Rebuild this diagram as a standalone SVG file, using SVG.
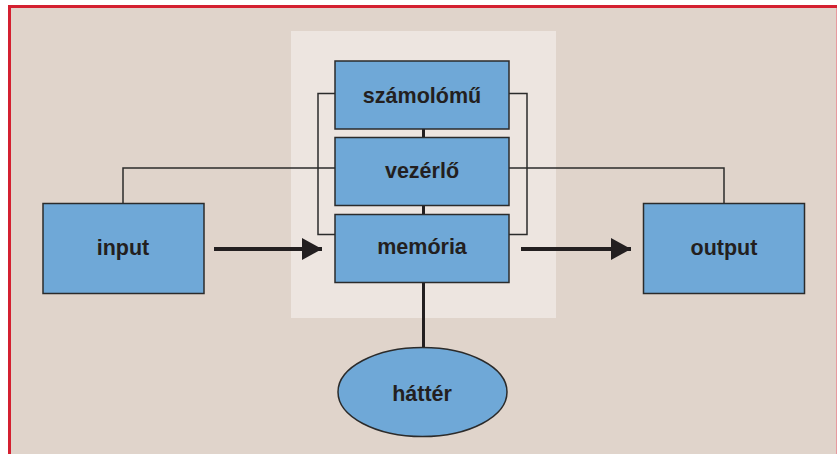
<svg xmlns="http://www.w3.org/2000/svg" width="837" height="454" viewBox="0 0 837 454">
<defs>
<style>
.box{fill:#6fa8d7;stroke:#2b2b2b;stroke-width:1.5}
.lbl{font-family:"Liberation Sans",Arial,sans-serif;font-weight:bold;font-size:21.5px;fill:#231f20;text-anchor:middle}
.thin{fill:none;stroke:#2b2b2b;stroke-width:1.5}
.thick{fill:none;stroke:#231f20;stroke-width:3}
.arrow{fill:none;stroke:#231f20;stroke-width:4}
</style>
<marker id="ah" viewBox="0 0 20 22" refX="20" refY="11" markerWidth="20" markerHeight="22" markerUnits="userSpaceOnUse" orient="auto">
<path d="M0,0 L20,11 L0,22 Z" fill="#231f20"/>
</marker>
</defs>
<rect x="0" y="0" width="837" height="454" fill="#ffffff"/>
<rect x="9.5" y="6.5" width="835" height="460" fill="#e0d4cb"/>
<path d="M9.5,454 V6.5 H837" fill="none" stroke="#d42030" stroke-width="3"/>
<line x1="836.5" y1="8" x2="836.5" y2="454" stroke="#e79a9f" stroke-width="1"/>
<rect id="panel" x="291" y="31" width="265" height="287" fill="#ede5e0"/>
<g id="connectors">
<path class="thin" d="M335,93.5 H318 V234.5 H335"/>
<path class="thin" d="M509,93.5 H527 V234.5 H509"/>
<path class="thin" d="M123,203 V168 H335"/>
<path class="thin" d="M724,203 V168 H509"/>
<path class="thick" d="M423.5,129 V137 M423.5,205 V214 M423.5,282 V348"/>
<line class="arrow" x1="214" y1="249" x2="322" y2="249" marker-end="url(#ah)"/>
<line class="arrow" x1="521" y1="249" x2="631" y2="249" marker-end="url(#ah)"/>
</g>
<g id="szamolomu"><rect class="box" x="335" y="61" width="174" height="68"/><text class="lbl" x="422" y="103">számolómű</text></g>
<g id="vezerlo"><rect class="box" x="335" y="137.5" width="174" height="68"/><text class="lbl" x="422" y="178">vezérlő</text></g>
<g id="memoria"><rect class="box" x="335" y="214.5" width="174" height="68"/><text class="lbl" x="422" y="254">memória</text></g>
<g id="input"><rect class="box" x="43" y="203.5" width="161" height="90"/><text class="lbl" x="123" y="255">input</text></g>
<g id="output"><rect class="box" x="643.5" y="203.5" width="161" height="90"/><text class="lbl" x="724" y="255">output</text></g>
<g id="hatter"><ellipse class="box" cx="422.5" cy="392" rx="84.5" ry="44.5"/><text class="lbl" x="422" y="401">háttér</text></g>
</svg>
